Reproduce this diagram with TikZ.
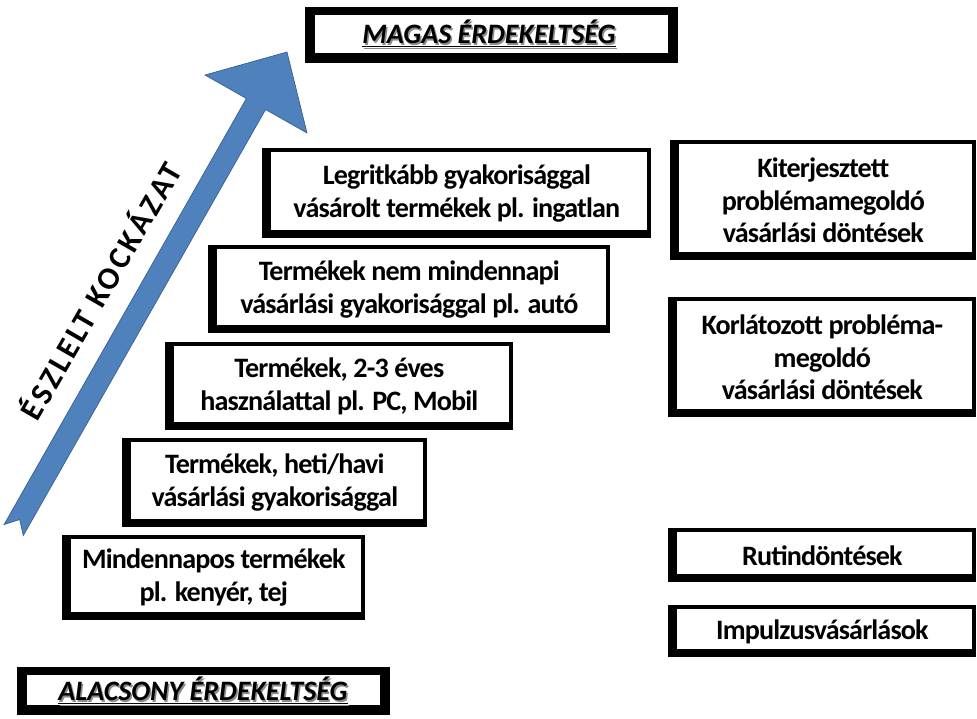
\documentclass[tikz,border=0pt]{standalone}
\usepackage{fontspec}
\setmainfont{Carlito}
\usetikzlibrary{calc}
\definecolor{arrowblue}{RGB}{79,129,189}
\definecolor{arrowedge}{RGB}{58,96,142}

\tikzset{
  framebox/.style={fill=black, inner sep=0pt, anchor=north west, align=center,
    font=\bfseries\fontsize{16}{18.7}\selectfont\addfontfeatures{LetterSpace=-3},
    path picture={\fill[white]
      ($(path picture bounding box.south west)+(0.18cm,0.16cm)$) rectangle
      ($(path picture bounding box.north east)+(-0.09cm,-0.08cm)$);}},
  titlebox/.style={fill=black, inner sep=0pt, anchor=north west,
    path picture={\fill[white]
      ($(path picture bounding box.south west)+(0.2cm,0.2cm)$) rectangle
      ($(path picture bounding box.north east)+(-0.2cm,-0.16cm)$);}},
  titletext/.style={font=\bfseries\itshape\fontsize{16}{18}\selectfont, inner sep=0pt},
  risklabel/.style={font=\bfseries\fontsize{18}{20}\selectfont, rotate=60, inner sep=0pt},
}

\begin{document}
\begin{tikzpicture}[x=0.02cm,y=-0.02cm]
\useasboundingbox (0,0) rectangle (977,718);

% rising risk arrow
\fill[arrowblue, draw=arrowedge, line width=0.4pt, line join=miter]
  (287,52) -- (307,133) -- (265.6,109.5) -- (23.3,535.5) -- (19.7,519.5)
  -- (4.1,524.5) -- (246.4,98.5) -- (205,75) -- cycle;
\node[risklabel] (risk) at (99,290)
  {\addfontfeatures{LetterSpace=10}ÉSZLELT KOCKÁZAT};

% involvement extremes
\node[titlebox, minimum width={373*0.02cm}, minimum height={56*0.02cm}] (high) at (305,7) {};
\node[titletext, text=black!45] at (490.5,35.5) {\underline{MAGAS ÉRDEKELTSÉG}};
\node[titletext] (hightext) at (489,34) {\underline{MAGAS ÉRDEKELTSÉG}};

\node[titlebox, minimum width={373*0.02cm}, minimum height={48*0.02cm}] (low) at (17,667) {};
\node[titletext, text=black!45] at (204.5,692.5) {\underline{ALACSONY ÉRDEKELTSÉG}};
\node[titletext] (lowtext) at (203,691) {\underline{ALACSONY ÉRDEKELTSÉG}};

% product staircase
\node[framebox, minimum width={389*0.02cm}, minimum height={90*0.02cm}] (rare) at (262,148)
  {Legritkább gyakorisággal\\vásárolt termékek pl. ingatlan};
\node[framebox, minimum width={402*0.02cm}, minimum height={88*0.02cm}] (car) at (208,245)
  {Termékek nem mindennapi\\vásárlási gyakorisággal pl. autó};
\node[framebox, minimum width={348*0.02cm}, minimum height={88*0.02cm}] (pc) at (165,342)
  {Termékek, 2-3 éves\\használattal pl. PC, Mobil};
\node[framebox, minimum width={305*0.02cm}, minimum height={89*0.02cm}] (weekly) at (122,438)
  {Termékek, heti/havi\\vásárlási gyakorisággal};
\node[framebox, minimum width={303*0.02cm}, minimum height={85*0.02cm}] (daily) at (62,535)
  {Mindennapos termékek\\pl. kenyér, tej};

% decision types
\node[framebox, minimum width={306*0.02cm}, minimum height={120*0.02cm}] (extended) at (670,140)
  {Kiterjesztett\\problémamegoldó\\vásárlási döntések};
\node[framebox, minimum width={308*0.02cm}, minimum height={120*0.02cm}] (limited) at (668,297)
  {Korlátozott probléma-\\megoldó\\vásárlási döntések};
\node[framebox, minimum width={308*0.02cm}, minimum height={54*0.02cm}] (routine) at (668,528)
  {Rutindöntések};
\node[framebox, minimum width={308*0.02cm}, minimum height={52*0.02cm}] (impulse) at (668,605)
  {Impulzusvásárlások};
\end{tikzpicture}
\end{document}
